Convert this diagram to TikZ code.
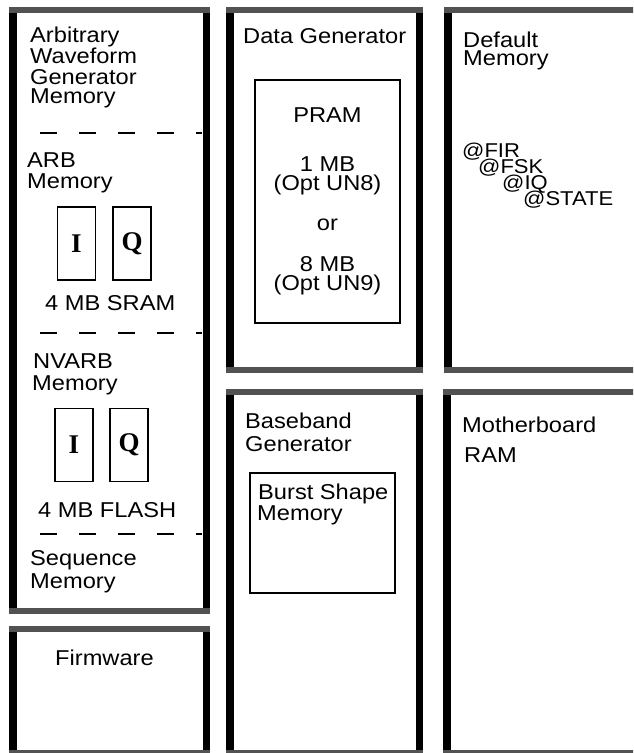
\documentclass[tikz,border=0pt]{standalone}
\usepackage{fontspec}
\setmainfont[FakeStretch=1.1]{Liberation Sans}
\newfontfamily\serifiq{Liberation Serif}
\begin{document}
\begin{tikzpicture}[x=1pt,y=-1pt,
  hatch/.style={fill=black!68},
  band/.style={fill=black},
  lbl/.style={inner sep=0pt, anchor=base west, font=\fontsize{21.5}{20}\selectfont},
  slbl/.style={inner sep=0pt, anchor=base west, font=\fontsize{20}{16}\selectfont},
  clbl/.style={inner sep=0pt, anchor=base, font=\fontsize{21.5}{20}\selectfont},
  inbox/.style={draw, line width=1.8pt, inner sep=0pt},
  iqbox/.style={inbox, minimum width=38pt, minimum height=73pt, font=\serifiq\bfseries\fontsize{27}{27}\selectfont},
  sep/.style={line width=2.4pt, dash pattern=on 17pt off 22pt, dash phase=17pt}
]
\newcommand\memframe[4]{%
  \fill[hatch] (#1,#2) rectangle (#3,#2+6);
  \fill[hatch] (#1,#4-6) rectangle (#3,#4);
  \fill[band] (#1,#2+6) rectangle (#1+8,#4-6);
  \fill[band] (#3-7,#2+6) rectangle (#3,#4-6);
}
\useasboundingbox (0,0) rectangle (633,753);
\clip (0,0) rectangle (633,753);
\fill[white] (0,0) rectangle (633,753);

% frames
\memframe{9}{7}{210}{614}
\memframe{9}{626}{210}{756}
\memframe{226}{7}{423}{373}
\memframe{226}{389}{423}{756}
\memframe{444}{7}{660}{373}
\memframe{443}{389}{660}{756}

% left column separators
\coordinate (d1a) at (18,133); \coordinate (d1b) at (202,133);
\coordinate (d2a) at (18,333); \coordinate (d2b) at (202,333);
\coordinate (d3a) at (18,534); \coordinate (d3b) at (202,534);
\draw[sep] (d1a) -- (d1b);
\draw[sep] (d2a) -- (d2b);
\draw[sep] (d3a) -- (d3b);

% left column text
\node[lbl] (awg1) at (30,42) {Arbitrary};
\node[lbl] (awg2) at (30,63) {Waveform};
\node[lbl] (awg3) at (30,84) {Generator};
\node[lbl] (awg4) at (30,103) {Memory};
\node[lbl] (arb1) at (27,167) {ARB};
\node[lbl] (arb2) at (27,188) {Memory};
\node[iqbox] (arbI) at (76.5,243.5) {I};
\node[iqbox] (arbQ) at (132,243.5) {Q};
\node[lbl] (sram) at (45,310) {4 MB SRAM};
\node[lbl] (nv1) at (33,368) {NVARB};
\node[lbl] (nv2) at (32,390) {Memory};
\node[iqbox] (nvI) at (74,445) {I};
\node[iqbox] (nvQ) at (129,445) {Q};
\node[lbl] (flash) at (38,517) {4 MB FLASH};
\node[lbl] (seq1) at (30,565) {Sequence};
\node[lbl] (seq2) at (30,588) {Memory};
\node[lbl] (fw) at (55,665) {Firmware};

% middle top
\node[lbl] (dg) at (243,43) {Data Generator};
\node[inbox, minimum width=145pt, minimum height=243pt] (pram) at (327.5,201.5) {};
\node[clbl] (p1) at (327.5,122) {PRAM};
\node[clbl] (p2) at (327.5,171) {1 MB};
\node[clbl] (p3) at (327.5,190) {(Opt UN8)};
\node[clbl] (p4) at (327.5,230) {or};
\node[clbl] (p5) at (327.5,271) {8 MB};
\node[clbl] (p6) at (327.5,290) {(Opt UN9)};

% right top
\node[lbl] (dm1) at (463,47) {Default};
\node[lbl] (dm2) at (463,65) {Memory};
\node[slbl] (f1) at (462,157) {@FIR};
\node[slbl] (f2) at (478,173) {@FSK};
\node[slbl] (f3) at (502,189) {@IQ};
\node[slbl] (f4) at (523,205) {@STATE};

% middle bottom
\node[lbl] (bb1) at (245,428) {Baseband};
\node[lbl] (bb2) at (245,451) {Generator};
\node[inbox, minimum width=145pt, minimum height=120pt] (burst) at (322.5,533) {};
\node[lbl] (bs1) at (258,499) {Burst Shape};
\node[lbl] (bs2) at (257,520) {Memory};

% right bottom
\node[lbl] (mb1) at (462,432) {Motherboard};
\node[lbl] (mb2) at (464,462) {RAM};
\end{tikzpicture}
\end{document}
